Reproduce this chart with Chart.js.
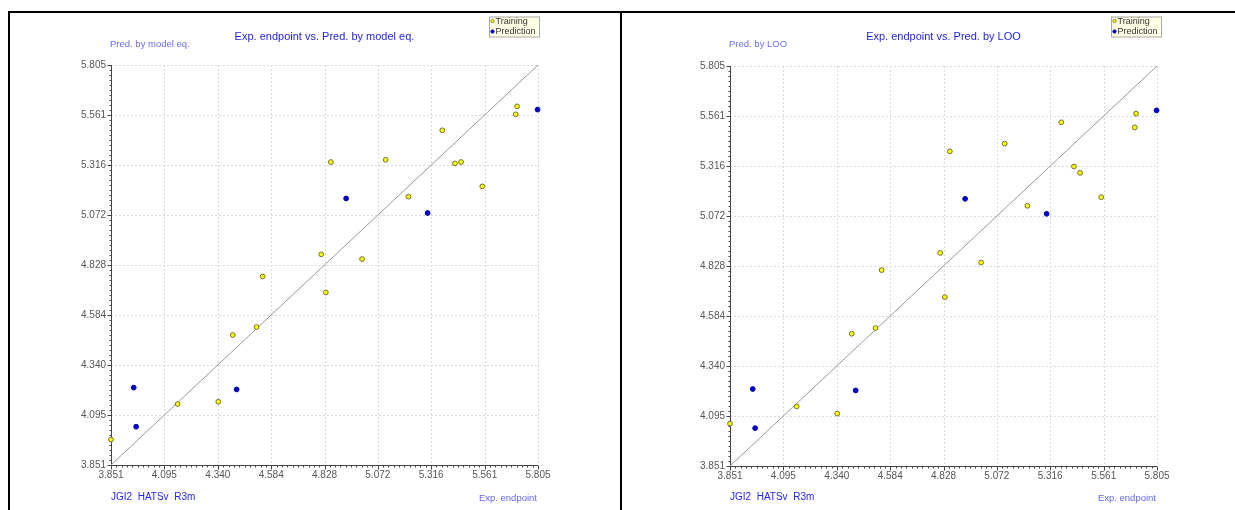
<!DOCTYPE html>
<html>
<head>
<meta charset="utf-8">
<script src="https://cdn.jsdelivr.net/npm/chart.js@4.4.0/dist/chart.umd.min.js"></script>
<style>
  html, body { margin: 0; padding: 0; background: #fff; }
  #wrap { position: relative; width: 1235px; height: 510px; overflow: hidden; }
  .panel { position: absolute; top: 0; height: 510px; }
  .line { position: absolute; background: #000; }
</style>
</head>
<body>
<div id="wrap">
  <div class="panel" style="left:0;width:620px"><canvas id="chartModel"></canvas></div>
  <div class="panel" style="left:619px;width:616px"><canvas id="chartLoo"></canvas></div>
  <div class="line" style="left:8px;top:11px;width:1227px;height:2px"></div>
  <div class="line" style="left:8px;top:11px;width:2px;height:499px"></div>
  <div class="line" style="left:620px;top:11px;width:2px;height:499px"></div>
</div>
<script>
// tick labels shared by both axes of both plots
const tickLabels = ['3.851', '4.095', '4.340', '4.584', '4.828', '5.072', '5.316', '5.561', '5.805'];
const tickValues = tickLabels.map(Number);

// training set: experimental endpoint and the two predictions
const expTrain = [3.851, 4.156, 4.342, 4.408, 4.517, 4.545, 4.813, 4.834, 4.857, 5.000, 5.108, 5.212, 5.367, 5.425, 5.453, 5.550, 5.703, 5.709];
const modelTrain = [3.975, 4.149, 4.160, 4.486, 4.525, 4.772, 4.880, 4.694, 5.331, 4.857, 5.342, 5.162, 5.486, 5.324, 5.331, 5.212, 5.564, 5.603];
const looTrain = [4.058, 4.142, 4.107, 4.497, 4.525, 4.808, 4.892, 4.676, 5.388, 4.845, 5.426, 5.122, 5.530, 5.314, 5.283, 5.164, 5.505, 5.572];

// prediction set
const expPred = [3.955, 3.966, 4.426, 4.927, 5.300, 5.803];
const modelPred = [4.229, 4.038, 4.220, 5.153, 5.082, 5.587];
const looPred = [4.227, 4.036, 4.220, 5.156, 5.083, 5.588];

const axisMin = tickValues[0];
const axisMax = tickValues[tickValues.length - 1];
const FONT = 'Liberation Sans';

function toPoints(xs, ys) {
    return xs.map((x, i) => ({ x: x, y: ys[i] }));
}

const decoPlugin = {
    id: 'deco',
    beforeDatasetsDraw(chart) {
        const { ctx, chartArea: a, scales: { x, y } } = chart;
        ctx.save();
        ctx.lineWidth = 1;
        // dotted grid
        ctx.strokeStyle = '#dadada';
        ctx.setLineDash([2, 2]);
        tickValues.slice(1).forEach(v => {
            const px = Math.round(x.getPixelForValue(v)) + 0.5;
            const py = Math.round(y.getPixelForValue(v)) + 0.5;
            ctx.beginPath(); ctx.moveTo(px, a.top); ctx.lineTo(px, a.bottom); ctx.stroke();
            ctx.beginPath(); ctx.moveTo(a.left, py); ctx.lineTo(a.right, py); ctx.stroke();
        });
        ctx.setLineDash([]);
        // axes
        ctx.strokeStyle = '#444';
        const x0 = Math.round(a.left) + 0.5;
        const y0 = Math.round(a.bottom) + 0.5;
        ctx.beginPath(); ctx.moveTo(x0, a.top); ctx.lineTo(x0, y0); ctx.lineTo(a.right, y0); ctx.stroke();
        // major and minor tick marks
        ctx.beginPath();
        for (let i = 0; i < tickValues.length; i++) {
            const v = tickValues[i];
            const px = Math.round(x.getPixelForValue(v)) + 0.5;
            const py = Math.round(y.getPixelForValue(v)) + 0.5;
            ctx.moveTo(px, y0); ctx.lineTo(px, y0 + 4);
            ctx.moveTo(x0, py); ctx.lineTo(x0 - 4, py);
            if (i < tickValues.length - 1) {
                const step = (tickValues[i + 1] - v) / 10;
                for (let j = 1; j < 10; j++) {
                    const mx = Math.round(x.getPixelForValue(v + j * step)) + 0.5;
                    const my = Math.round(y.getPixelForValue(v + j * step)) + 0.5;
                    ctx.moveTo(mx, y0); ctx.lineTo(mx, y0 + 2);
                    ctx.moveTo(x0, my); ctx.lineTo(x0 - 2, my);
                }
            }
        }
        ctx.stroke();
        ctx.restore();
    },
    afterDraw(chart, args, opts) {
        const { ctx, chartArea: a } = chart;
        ctx.save();
        ctx.textBaseline = 'middle';
        ctx.font = '11px "' + FONT + '"';
        ctx.fillStyle = '#2424dc';
        ctx.textAlign = 'center';
        ctx.fillText(opts.title, (a.left + a.right) / 2, 37);
        ctx.textAlign = 'left';
        ctx.font = '9.5px "' + FONT + '"';
        ctx.fillStyle = '#6c6cee';
        ctx.fillText(opts.yLabel, a.left - 1, 44);
        ctx.font = '10px "' + FONT + '"';
        ctx.fillStyle = '#2424ec';
        ctx.fillText(opts.footer, a.left, 497.5);
        ctx.textAlign = 'right';
        ctx.font = '9.5px "' + FONT + '"';
        ctx.fillStyle = '#6666ee';
        ctx.fillText(opts.xLabel, a.right - 1, 498);

        // legend box
        const lx = opts.legendX, ly = 16.5;
        ctx.fillStyle = '#ffffe6';
        ctx.strokeStyle = '#a8a8a8';
        ctx.lineWidth = 1;
        ctx.fillRect(lx, ly, 51, 21);
        ctx.strokeRect(lx + 0.5, ly + 0.5, 50, 20);
        ctx.textAlign = 'left';
        ctx.font = '9px "' + FONT + '"';
        chart.data.datasets.filter(d => d.label).forEach((d, i) => {
            const cy = ly + 4.5 + i * 10.5;
            ctx.beginPath();
            ctx.arc(lx + 3.5, cy, 1.7, 0, Math.PI * 2);
            ctx.fillStyle = d.backgroundColor;
            ctx.fill();
            ctx.strokeStyle = d.borderColor;
            ctx.lineWidth = 0.8;
            ctx.stroke();
            ctx.fillStyle = '#333';
            ctx.fillText(d.label, lx + 6.5, cy + 0.5);
        });
        ctx.restore();
    }
};

function makeChart(id, predTrain, predPred, deco, padRight, top, xHeight) {
    const axisFont = { family: FONT, size: 10 };
    return new Chart(document.getElementById(id), {
        type: 'scatter',
        data: {
            datasets: [
                {
                    label: 'Training',
                    data: toPoints(expTrain, predTrain),
                    pointRadius: 2.4,
                    backgroundColor: '#ffff00',
                    borderColor: '#707034',
                    borderWidth: 1,
                    clip: false,
                    order: 1
                },
                {
                    label: 'Prediction',
                    data: toPoints(expPred, predPred),
                    pointRadius: 2.4,
                    backgroundColor: '#0000d0',
                    borderColor: '#0000a8',
                    borderWidth: 1,
                    clip: false,
                    order: 1
                },
                {
                    type: 'line',
                    label: '',
                    data: [{ x: axisMin, y: axisMin }, { x: axisMax, y: axisMax }],
                    borderColor: '#999',
                    borderWidth: 1,
                    pointRadius: 0,
                    fill: false,
                    order: 2
                }
            ]
        },
        options: {
            responsive: true,
            maintainAspectRatio: false,
            animation: false,
            layout: { padding: { left: 0, top: top, right: padRight, bottom: 0 } },
            scales: {
                x: {
                    type: 'linear',
                    min: axisMin,
                    max: axisMax,
                    afterBuildTicks: s => { s.ticks = tickValues.map(v => ({ value: v })); },
                    afterFit: s => { s.height = xHeight; },
                    ticks: {
                        autoSkip: false,
                        maxRotation: 0,
                        padding: 4,
                        color: '#555',
                        font: axisFont,
                        callback: (v, i) => tickLabels[i]
                    },
                    grid: { display: false, drawTicks: false },
                    border: { display: false }
                },
                y: {
                    type: 'linear',
                    min: axisMin,
                    max: axisMax,
                    afterBuildTicks: s => { s.ticks = tickValues.map(v => ({ value: v })); },
                    afterFit: s => { s.width = 111; },
                    ticks: {
                        autoSkip: false,
                        padding: 5,
                        color: '#555',
                        font: axisFont,
                        callback: (v, i) => tickLabels[i]
                    },
                    grid: { display: false, drawTicks: false },
                    border: { display: false }
                }
            },
            plugins: {
                legend: { display: false },
                tooltip: { enabled: false },
                deco: deco
            }
        },
        plugins: [decoPlugin]
    });
}

makeChart('chartModel', modelTrain, modelPred, {
    title: 'Exp. endpoint vs. Pred. by model eq.',
    yLabel: 'Pred. by model eq.',
    xLabel: 'Exp. endpoint',
    footer: 'JGI2  HATSv  R3m',
    legendX: 489
}, 82, 65, 45);

makeChart('chartLoo', looTrain, looPred, {
    title: 'Exp. endpoint vs. Pred. by LOO',
    yLabel: 'Pred. by LOO',
    xLabel: 'Exp. endpoint',
    footer: 'JGI2  HATSv  R3m',
    legendX: 492
}, 78, 66, 44);
</script>
</body>
</html>
